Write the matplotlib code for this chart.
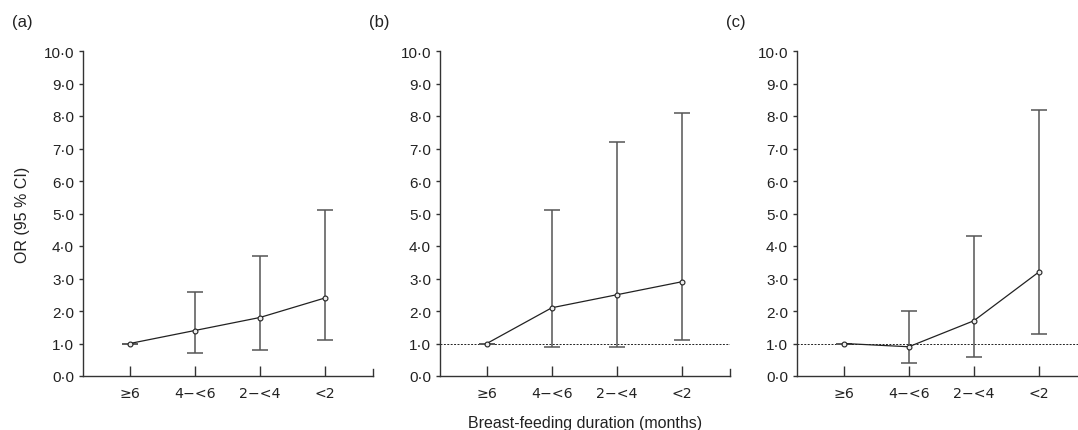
import matplotlib
matplotlib.use("Agg")
import matplotlib.pyplot as plt

# ── DATA ─────────────────────────────────────────────────────
categories = ["≥6", "4−<6", "2−<4", "<2"]
panel_labels = ["(a)", "(b)", "(c)"]

or_a = [1.0, 1.4, 1.8, 2.4]
low_a = [1.0, 0.7, 0.8, 1.1]
high_a = [1.0, 2.6, 3.7, 5.1]

or_b = [1.0, 2.1, 2.5, 2.9]
low_b = [1.0, 0.9, 0.9, 1.1]
high_b = [1.0, 5.1, 7.2, 8.1]

or_c = [1.0, 0.9, 1.7, 3.2]
low_c = [1.0, 0.4, 0.6, 1.3]
high_c = [1.0, 2.0, 4.3, 8.2]

yticks = [0, 1, 2, 3, 4, 5, 6, 7, 8, 9, 10]
ref_line = [False, True, True]

plt.rcParams["font.family"] = ["Liberation Sans", "DejaVu Sans"]

fig = plt.figure(figsize=(10.78, 4.31), dpi=100, facecolor="white")

# [left, bottom, width, height] in figure fraction
W, H = 1078, 431
spines_x = [83, 440, 797]
ax_w = 290
bottom = (H - 377) / H
height = (377 - 52) / H

series = [(or_a, low_a, high_a), (or_b, low_b, high_b), (or_c, low_c, high_c)]

for i, (vals, lo, hi) in enumerate(series):
    ax = fig.add_axes([spines_x[i] / W, bottom, ax_w / W, height])
    x = list(range(len(categories)))
    yerr = [[v - l for v, l in zip(vals, lo)], [h - v for v, h in zip(vals, hi)]]

    if ref_line[i]:
        ax.axhline(1.0, color="#222222", linestyle=(0, (2, 1.5)), linewidth=0.7, zorder=1)

    ax.errorbar(x, vals, yerr=yerr, fmt="none", ecolor="#555555",
                elinewidth=1.1, capsize=5.5, capthick=1.1, zorder=2)
    ax.plot(x, vals, color="#222222", linewidth=0.9, zorder=3,
            marker="o", markersize=3.5, markerfacecolor="#eeeeee",
            markeredgecolor="#222222", markeredgewidth=0.8)

    ax.set_xlim(-0.72, 3.74)
    ax.set_ylim(0, 10)
    ax.set_yticks(yticks)
    ax.set_yticklabels([f"{t}·0" for t in yticks])
    ax.set_xticks(x)
    ax.set_xticklabels(categories, family="DejaVu Sans", fontsize=10.2)

    for s in ["top", "right"]:
        ax.spines[s].set_visible(False)
    for s in ["left", "bottom"]:
        ax.spines[s].set_color("#333333")
        ax.spines[s].set_linewidth(1.0)

    ax.tick_params(axis="y", direction="out", length=3, width=1.0,
                   color="#333333", labelsize=11, labelcolor="#222222", pad=3.5)
    ax.tick_params(axis="x", direction="in", length=7, width=1.0,
                   color="#333333", labelcolor="#222222", pad=7)

    # small upturned end of the x axis
    ax.plot([1, 1], [0, 0.022], transform=ax.transAxes, color="#333333",
            linewidth=1.0, clip_on=False)

    fig.text((spines_x[i] - 71) / W, (H - 23) / H, panel_labels[i],
             fontsize=12, color="#222222", ha="left", va="center")

    if i == 0:
        ax.set_ylabel("OR (95 % CI)", fontsize=11.5, color="#222222", labelpad=10)
    if i == 1:
        ax.set_xlabel("Breast-feeding duration (months)", fontsize=11.5,
                      color="#222222", labelpad=11)

fig.savefig("out.png", dpi=100, facecolor="white")
